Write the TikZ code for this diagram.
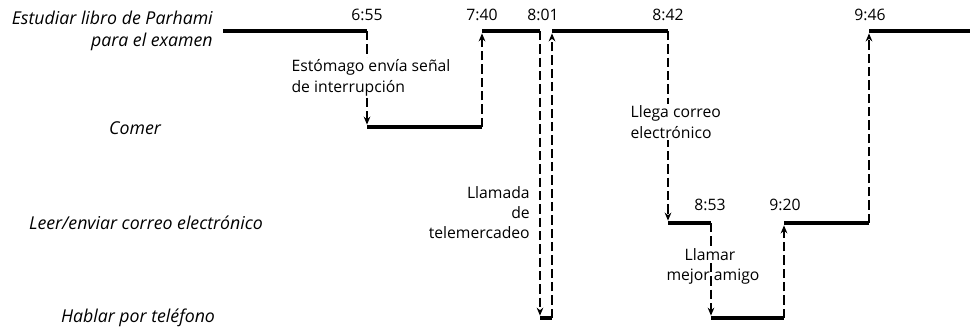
\documentclass[tikz,border=0pt]{standalone}
\usepackage{fontspec}
\setmainfont{Open Sans}
\usetikzlibrary{arrows.meta}
\begin{document}
\begin{tikzpicture}[x=0.75pt,y=-0.75pt,
  seg/.style={line width=3.6pt},
  trans/.style={dash pattern=on 7pt off 3pt, line width=0.9pt, -{Stealth[length=6pt,width=5pt]}},
  lbl/.style={font=\fontsize{11.8}{15.75}\selectfont, inner sep=0pt},
  lvl/.style={inner sep=0pt, font=\fontsize{13.3}{16.5}\selectfont\itshape},
  tm/.style={lbl}
]
\useasboundingbox (0,0) rectangle (970,333);
% transition points
\coordinate (s0) at (223,31);
\coordinate (s1) at (367,31);
\coordinate (c1) at (367,127);
\coordinate (c2) at (482,127);
\coordinate (s2) at (482,31);
\coordinate (s3) at (540,31);
\coordinate (h1) at (540,318);
\coordinate (h2) at (552,318);
\coordinate (s4) at (552,31);
\coordinate (s5) at (668,31);
\coordinate (m1) at (668,223);
\coordinate (m2) at (711,223);
\coordinate (h3) at (711,318);
\coordinate (h4) at (784,318);
\coordinate (m3) at (784,223);
\coordinate (m4) at (869,223);
\coordinate (s6) at (869,31);
\coordinate (s7) at (970,31);
% activity segments
\draw[seg] (s0) -- (s1);
\draw[seg] (c1) -- (c2);
\draw[seg] (s2) -- (s3);
\draw[seg] (h1) -- (h2);
\draw[seg] (s4) -- (s5);
\draw[seg] (m1) -- (m2);
\draw[seg] (h3) -- (h4);
\draw[seg] (m3) -- (m4);
\draw[seg] (s6) -- (s7);
% transitions
\draw[trans] (s1) -- ([yshift=1.8pt]c1);
\draw[trans] (c2) -- ([yshift=-1.8pt]s2);
\draw[trans] (s3) -- ([yshift=1.8pt]h1);
\draw[trans] (h2) -- ([yshift=-1.8pt]s4);
\draw[trans] (s5) -- ([yshift=1.8pt]m1);
\draw[trans] (m2) -- ([yshift=1.8pt]h3);
\draw[trans] (h4) -- ([yshift=-1.8pt]m3);
\draw[trans] (m4) -- ([yshift=-1.8pt]s6);
% level labels
\node[lvl, anchor=east, align=right] (study) at (213,31) {Estudiar libro de Parhami\\para el examen};
\node[lvl] (eat) at (135,128) {Comer};
\node[lvl] (mail) at (146,223) {Leer/enviar correo electrónico};
\node[lvl] (phone) at (138,318) {Hablar por teléfono};
% times
\node[tm] (t1) at (367,15) {6:55};
\node[tm] (t2) at (482,15) {7:40};
\node[tm] (t3) at (543,15) {8:01};
\node[tm] (t4) at (668,15) {8:42};
\node[tm] (t5) at (870,15) {9:46};
\node[tm] (t6) at (710,205) {8:53};
\node[tm] (t7) at (785,205) {9:20};
% event labels
\node[lbl, fill=white, inner sep=1pt, align=left, anchor=west] (stom) at (290,77.5) {Estómago envía señal\\de interrupción};
\node[lbl, fill=white, inner sep=1pt, align=left, anchor=west] (llega) at (629,122) {Llega correo\\electrónico};
\node[lbl, align=right, anchor=east, font=\fontsize{11.8}{15}\selectfont] (tele) at (530,213) {Llamada\\de\\telemercadeo};
\node[lbl, fill=white, inner sep=1pt] (amigo1) at (710,255) {Llamar};
\node[lbl] (amigo2) at (713,277) {mejor amigo};
\end{tikzpicture}
\end{document}
